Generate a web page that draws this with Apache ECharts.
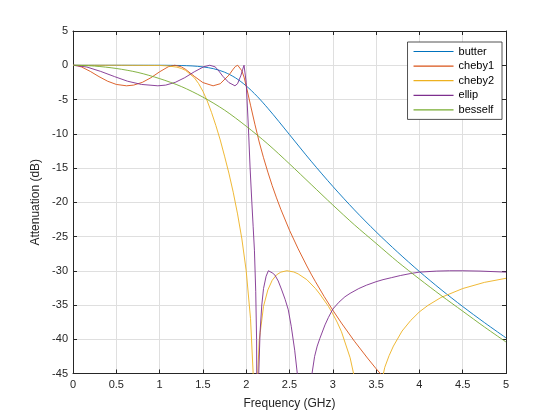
<!DOCTYPE html>
<html>
<head>
<meta charset="utf-8">
<script src="https://cdn.jsdelivr.net/npm/echarts@6/dist/echarts.min.js"></script>
<style>
  html, body { margin: 0; padding: 0; background: #fff; }
  #chart { width: 560px; height: 420px; }
</style>
</head>
<body>
<div id="chart"></div>
<script>
const seriesNames = ['butter', 'cheby1', 'cheby2', 'ellip', 'besself'];
const seriesColors = ['#0072BD', '#D95319', '#EDB120', '#7E2F8E', '#77AC30'];

// frequency (GHz) / attenuation (dB)
const butterFreq = [0, 0.25, 0.5, 0.75, 1, 1.25, 1.375, 1.5, 1.625, 1.75, 1.875, 2, 2.125, 2.25, 2.375, 2.5, 2.75, 3, 3.25, 3.5, 3.75, 4, 4.25, 4.5, 4.75, 5];
const butterDb = [0, 0, 0, 0, 0, -0.04, -0.1, -0.24, -0.51, -1.01, -1.83, -3.01, -4.52, -6.28, -8.18, -10.13, -14.01, -17.68, -21.12, -24.32, -27.3, -30.11, -32.75, -35.22, -37.56, -39.8];

const cheby1Freq = [0, 0.05, 0.1, 0.2, 0.3, 0.4, 0.5, 0.618, 0.7, 0.8, 0.9, 1.0, 1.1, 1.176, 1.25, 1.3, 1.4, 1.5, 1.618, 1.7, 1.8, 1.85, 1.875, 1.902, 1.925, 1.95, 1.975, 2.0, 2.05, 2.1, 2.15, 2.2, 2.25, 2.3, 2.35, 2.4, 2.5, 2.6, 2.7, 2.75, 2.8, 2.9, 3.0, 3.1, 3.25, 3.4, 3.5, 3.75];
const cheby1Db = [0, -0.07, -0.26, -0.9, -1.66, -2.33, -2.8, -3.0, -2.9, -2.5, -1.82, -0.96, -0.22, 0, -0.23, -0.6, -1.61, -2.53, -3.0, -2.7, -1.45, -0.57, -0.18, 0, -0.16, -0.81, -1.73, -3.0, -5.83, -8.6, -11.2, -13.5, -15.6, -17.57, -19.36, -21.04, -24.09, -26.8, -29.3, -30.49, -31.6, -33.75, -35.76, -37.64, -40.29, -42.74, -44.3, -47.9];

const cheby2Freq = [0, 0.5, 1.0, 1.1, 1.2, 1.25, 1.3, 1.4, 1.45, 1.5, 1.55, 1.6, 1.65, 1.7, 1.75, 1.8, 1.85, 1.9, 1.95, 2.0, 2.05, 2.08, 2.1, 2.12, 2.15, 2.2, 2.25, 2.3, 2.35, 2.4, 2.47, 2.55, 2.6, 2.7, 2.8, 2.85, 2.95, 3.0, 3.05, 3.1, 3.2, 3.25, 3.3, 3.4, 3.5, 3.6, 3.65, 3.7, 3.8, 3.9, 4.0, 4.1, 4.25, 4.5, 4.75, 5];
const cheby2Db = [0, 0, -0.03, -0.1, -0.28, -0.47, -0.75, -1.81, -2.67, -3.8, -5.21, -6.9, -8.81, -10.9, -13.27, -15.75, -18.53, -21.7, -25.35, -30, -37, -44.9, -60, -49, -40.2, -35.2, -32.8, -31.4, -30.6, -30.2, -30.0, -30.18, -30.46, -31.3, -32.6, -33.4, -35.2, -36.3, -37.5, -38.9, -42.7, -45.6, -48.8, -70, -50, -44.1, -42.4, -41.0, -38.8, -37.25, -36.0, -35.05, -33.9, -32.6, -31.7, -31.1];

const ellipFreq = [0, 0.16, 0.32, 0.48, 0.63, 0.79, 0.98, 1.07, 1.18, 1.29, 1.4, 1.51, 1.58, 1.64, 1.67, 1.73, 1.8, 1.87, 1.9, 1.94, 1.96, 1.975, 2.0, 2.025, 2.045, 2.065, 2.08, 2.095, 2.11, 2.12, 2.13, 2.145, 2.16, 2.18, 2.2, 2.23, 2.256, 2.3, 2.33, 2.37, 2.41, 2.45, 2.486, 2.52, 2.56, 2.59, 2.66, 2.76, 2.79, 2.82, 2.85, 2.91, 2.95, 3.0, 3.07, 3.14, 3.2, 3.3, 3.39, 3.5, 3.58, 3.68, 3.78, 3.9, 4.0, 4.2, 4.35, 4.5, 4.7, 5.0];
const ellipDb = [0, -0.26, -0.9, -1.66, -2.33, -2.8, -3.0, -2.9, -2.5, -1.82, -0.96, -0.22, 0, -0.23, -0.6, -1.61, -2.53, -3.0, -2.7, -1.45, -0.57, 0, -2.5, -9, -15, -20, -23.5, -27, -33, -40, -70, -45, -39, -35, -32.6, -30.8, -30.0, -30.3, -30.6, -31.5, -32.8, -34.2, -35.7, -38.1, -41.6, -45, -70, -45, -42.5, -41.0, -39.9, -37.9, -36.8, -35.6, -34.6, -33.8, -33.3, -32.6, -32.1, -31.6, -31.3, -31.0, -30.7, -30.4, -30.2, -30.05, -30.0, -30.0, -30.05, -30.2];

const besselfFreq = [0, 0.25, 0.5, 0.75, 1, 1.25, 1.5, 1.75, 2, 2.25, 2.5, 2.75, 3, 3.25, 3.5, 3.75, 4, 4.25, 4.5, 4.75, 5];
const besselfDb = [0, -0.12, -0.47, -1.05, -1.95, -3.1, -4.65, -6.55, -8.9, -11.5, -14.4, -17.4, -20.4, -23.3, -26.0, -28.7, -31.2, -33.6, -35.9, -38.2, -40.4];

const freqTicks = { min: 0, max: 5, interval: 0.5 };
const dbTicks = { min: -45, max: 5, interval: 5 };

function pairs(xs, ys) {
    return xs.map((x, i) => [x, ys[i]]);
}

const curves = [
    [butterFreq, butterDb],
    [cheby1Freq, cheby1Db],
    [cheby2Freq, cheby2Db],
    [ellipFreq, ellipDb],
    [besselfFreq, besselfDb]
];

const chart = echarts.init(document.getElementById('chart'), null, { renderer: 'canvas' });

const axisColor = '#262626';
const gridColor = '#dfdfdf';
const font = 'Liberation Sans, Arial, sans-serif';

const boxAxis = {
    axisLine: { show: true, onZero: false, lineStyle: { color: axisColor, width: 1 } },
    axisTick: { show: true, inside: true, length: 4, lineStyle: { color: axisColor } },
    axisLabel: { show: false },
    splitLine: { show: false }
};

const option = {
    animation: false,
    backgroundColor: '#fff',
    grid: { left: 73, right: 54, top: 31, bottom: 46.5, containLabel: false },
    legend: {
        orient: 'vertical',
        right: 58,
        top: 42,
        data: seriesNames,
        icon: 'rect',
        itemWidth: 40,
        itemHeight: 1.2,
        itemGap: 1.6,
        itemStyle: { borderWidth: 0 },
        padding: [3, 8, 3, 6],
        backgroundColor: '#fff',
        borderColor: axisColor,
        borderWidth: 0.8,
        borderRadius: 0,
        textStyle: { fontFamily: font, fontSize: 11, color: '#000', lineHeight: 13 }
    },
    xAxis: [
        {
            type: 'value',
            min: freqTicks.min,
            max: freqTicks.max,
            interval: freqTicks.interval,
            name: 'Frequency (GHz)',
            nameLocation: 'middle',
            nameGap: 24,
            nameTextStyle: { fontFamily: font, fontSize: 12, color: axisColor },
            axisLine: { show: true, onZero: false, lineStyle: { color: axisColor, width: 1 } },
            axisTick: { show: true, inside: true, length: 4, lineStyle: { color: axisColor } },
            axisLabel: { fontFamily: font, fontSize: 11, color: axisColor, margin: 6 },
            splitLine: { show: true, lineStyle: { color: gridColor, width: 1 } }
        },
        Object.assign({ type: 'value', position: 'top', min: freqTicks.min, max: freqTicks.max, interval: freqTicks.interval }, boxAxis)
    ],
    yAxis: [
        {
            type: 'value',
            min: dbTicks.min,
            max: dbTicks.max,
            interval: dbTicks.interval,
            name: 'Attenuation (dB)',
            nameLocation: 'middle',
            nameGap: 25,
            nameTextStyle: { fontFamily: font, fontSize: 12, color: axisColor },
            axisLine: { show: true, onZero: false, lineStyle: { color: axisColor, width: 1 } },
            axisTick: { show: true, inside: true, length: 4, lineStyle: { color: axisColor } },
            axisLabel: { fontFamily: font, fontSize: 11, color: axisColor, margin: 5 },
            splitLine: { show: true, lineStyle: { color: gridColor, width: 1 } }
        },
        Object.assign({ type: 'value', position: 'right', min: dbTicks.min, max: dbTicks.max, interval: dbTicks.interval }, boxAxis)
    ],
    series: curves.map((c, i) => ({
        name: seriesNames[i],
        type: 'line',
        xAxisIndex: 0,
        yAxisIndex: 0,
        data: pairs(c[0], c[1]),
        showSymbol: false,
        clip: true,
        smooth: (i === 0 || i === 4) ? 0.3 : false,
        color: seriesColors[i],
        itemStyle: { color: seriesColors[i] },
        lineStyle: { color: seriesColors[i], width: 0.9 }
    }))
};

chart.setOption(option);
</script>
</body>
</html>
